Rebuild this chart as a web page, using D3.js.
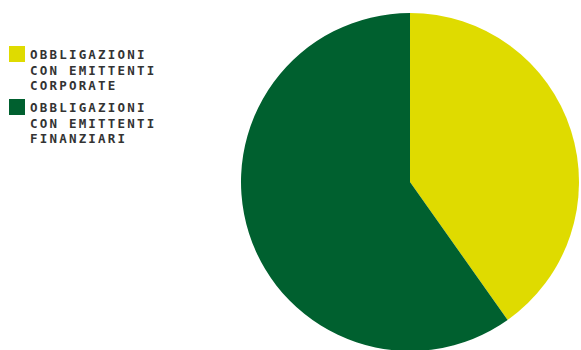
<!DOCTYPE html>
<html>
<head>
<meta charset="utf-8">
<script src="https://cdn.jsdelivr.net/npm/d3@7"></script>
<style>
  html, body { margin: 0; padding: 0; background: #fff; }
  svg { display: block; }
</style>
</head>
<body>
<svg id="chart" width="581" height="350"></svg>
<script>
// Bond issuer mix (share of portfolio, %)
const categories = ["OBBLIGAZIONI CON EMITTENTI CORPORATE", "OBBLIGAZIONI CON EMITTENTI FINANZIARI"];
const legendLines = [
  ["OBBLIGAZIONI", "CON EMITTENTI", "CORPORATE"],
  ["OBBLIGAZIONI", "CON EMITTENTI", "FINANZIARI"]
];
const values = [40.2, 59.8];
const colors = ["#dfdb00", "#00602f"];

const svg = d3.select("#chart");

const color = d3.scaleOrdinal().domain(categories).range(colors);

// Pie
const cx = 410, cy = 182, radius = 169;
const pie = d3.pie().sort(null).value(d => d.value);
const arc = d3.arc().innerRadius(0).outerRadius(radius);
const data = categories.map((c, i) => ({ name: c, value: values[i] }));

svg.append("g")
  .attr("transform", `translate(${cx},${cy})`)
  .selectAll("path")
  .data(pie(data))
  .join("path")
  .attr("d", arc)
  .attr("fill", d => color(d.data.name));

// Legend
const legend = svg.append("g").attr("transform", "translate(9,46)");
const itemGap = 53;
const item = legend.selectAll("g.item")
  .data(categories)
  .join("g")
  .attr("class", "item")
  .attr("transform", (d, i) => `translate(0,${i * itemGap})`);

item.append("rect")
  .attr("width", 16)
  .attr("height", 16)
  .attr("fill", d => color(d));

item.append("text")
  .attr("x", 21)
  .attr("y", 13)
  .attr("font-family", "'DejaVu Sans Mono', monospace")
  .attr("font-size", 12.5)
  .attr("font-weight", 700)
  .attr("letter-spacing", 2.2)
  .attr("fill", "#333")
  .selectAll("tspan")
  .data((d, i) => legendLines[i])
  .join("tspan")
  .attr("x", 21)
  .attr("dy", (d, j) => j === 0 ? 0 : 15.5)
  .text(d => d);
</script>
</body>
</html>
